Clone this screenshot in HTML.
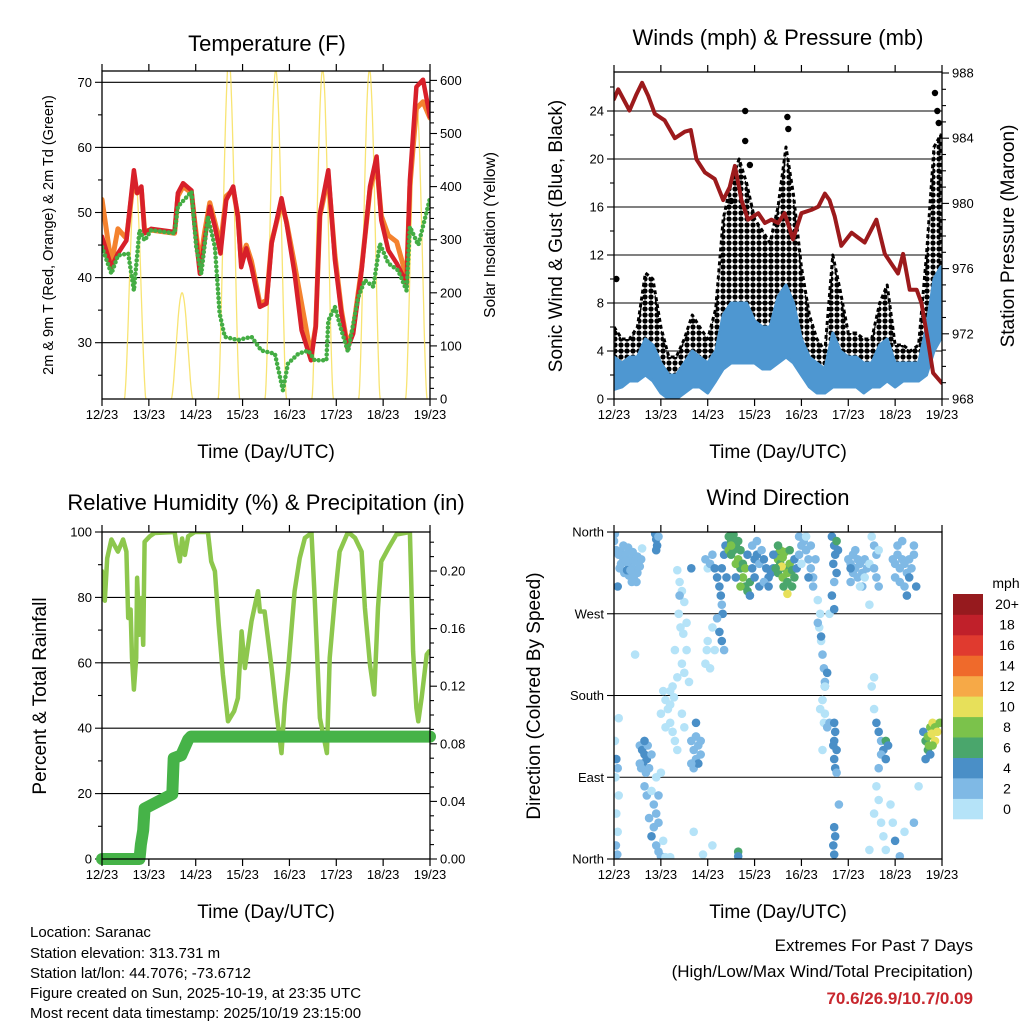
<!DOCTYPE html>
<html><head><meta charset="utf-8"><title>Station Meteogram</title>
<style>
html,body{margin:0;padding:0;background:#fff;}
svg{display:block;font-family:"Liberation Sans",Arial,sans-serif;}
</style></head>
<body>
<svg id="chart" width="1024" height="1024" viewBox="0 0 1024 1024" xmlns="http://www.w3.org/2000/svg">
<rect x="0" y="0" width="1024" height="1024" fill="#fff"/>
<defs>
<clipPath id="c1"><rect x="102" y="71" width="328" height="328"/></clipPath>
<clipPath id="c2"><rect x="614" y="72" width="328" height="327"/></clipPath>
<clipPath id="c3"><rect x="102" y="532" width="328" height="327"/></clipPath>
<clipPath id="c4"><rect x="614" y="532" width="328" height="327"/></clipPath>
<pattern id="gustdots" width="6" height="6" patternUnits="userSpaceOnUse">
<circle cx="3" cy="3" r="2.6" fill="#000"/>
</pattern>
</defs>
<g id="g1"></g>
<g id="g2"></g>
<g id="g3"></g>
<g id="g4"></g>
<g id="gt">
<text x="267" y="51" font-size="22" text-anchor="middle">Temperature (F)</text>
<text x="778" y="45" font-size="22" text-anchor="middle">Winds (mph) &amp; Pressure (mb)</text>
<text x="266" y="510" font-size="22" text-anchor="middle">Relative Humidity (%) &amp; Precipitation (in)</text>
<text x="778" y="505" font-size="22" text-anchor="middle">Wind Direction</text>
<text x="266" y="458" font-size="19" text-anchor="middle">Time (Day/UTC)</text>
<text x="778" y="458" font-size="19" text-anchor="middle">Time (Day/UTC)</text>
<text x="266" y="918" font-size="19" text-anchor="middle">Time (Day/UTC)</text>
<text x="778" y="918" font-size="19" text-anchor="middle">Time (Day/UTC)</text>
<text transform="translate(53,235) rotate(-90)" font-size="14.5" text-anchor="middle">2m &amp; 9m T (Red, Orange) &amp; 2m Td (Green)</text>
<text transform="translate(495,235) rotate(-90)" font-size="15.5" text-anchor="middle">Solar Insolation (Yellow)</text>
<text transform="translate(562,236) rotate(-90)" font-size="19" text-anchor="middle">Sonic Wind &amp; Gust (Blue, Black)</text>
<text transform="translate(1014,236) rotate(-90)" font-size="19" text-anchor="middle">Station Pressure (Maroon)</text>
<text transform="translate(46,696) rotate(-90)" font-size="19" text-anchor="middle">Percent &amp; Total Rainfall</text>
<text transform="translate(540,696) rotate(-90)" font-size="19" text-anchor="middle">Direction (Colored By Speed)</text>
<text x="30" y="937" font-size="15">Location: Saranac</text>
<text x="30" y="958" font-size="15">Station elevation: 313.731 m</text>
<text x="30" y="978" font-size="15">Station lat/lon: 44.7076; -73.6712</text>
<text x="30" y="998" font-size="15">Figure created on Sun, 2025-10-19, at 23:35 UTC</text>
<text x="30" y="1018" font-size="15">Most recent data timestamp: 2025/10/19 23:15:00</text>
<text x="973" y="951" font-size="17" text-anchor="end">Extremes For Past 7 Days</text>
<text x="973" y="977" font-size="17" text-anchor="end">(High/Low/Max Wind/Total Precipitation)</text>
<text x="973" y="1004" font-size="17" font-weight="bold" fill="#c8272e" text-anchor="end">70.6/26.9/10.7/0.09</text>
</g>
</svg>
<script>
// ---------- data ----------
const dayLabels = ["12/23","13/23","14/23","15/23","16/23","17/23","18/23","19/23"];
const tDays = [0,0.2,0.34,0.52,0.59,0.68,0.75,0.84,0.91,1.05,1.55,1.62,1.73,1.91,1.98,2.09,2.19,2.30,2.41,2.53,2.65,2.80,2.90,2.97,3.08,3.19,3.37,3.51,3.62,3.83,3.94,4.11,4.26,4.46,4.56,4.65,4.83,4.97,5.11,5.24,5.36,5.54,5.72,5.86,5.96,6.11,6.29,6.5,6.57,6.71,6.85,7.0];
const temp2m = [46.3,41.6,43.7,45.7,50.4,56.5,53,54,46.8,47.5,47,53,54.5,53.4,47.8,40.6,45.7,50.9,47.8,43.7,51.9,54,49.3,41.6,44.5,41.6,35.5,36,45.2,52.2,48.3,40.6,31.9,27.3,32.4,49.8,56.5,42.7,34.5,29.1,31.4,41.1,54,58.6,48.8,44.2,42.2,39.1,55,69.3,70.4,64.7];
const temp9m = [52,42,47.5,46,50,55.5,53,53.5,47.2,47.3,46.8,52.5,54,53,48.5,42,47,51.5,48.5,45,52.5,53.5,49.5,42.5,45,42.5,36,36.5,45.5,51.5,48.5,42,36,28,32.5,49.5,55.5,43.5,35,29.5,32,41.5,53.5,57.5,49.5,46.5,45.5,40,54,66,67,64.5];
const tdDays = [0,0.2,0.34,0.56,0.68,0.80,0.91,1.05,1.55,1.62,1.91,2.01,2.12,2.26,2.41,2.51,2.62,2.90,3.19,3.40,3.69,3.86,3.97,4.19,4.40,4.54,4.79,4.83,4.97,5.11,5.25,5.47,5.61,5.79,5.93,6.11,6.32,6.5,6.57,6.75,7.0];
const dewpoint = [44.7,40.6,43.4,43.7,38,47.3,45.7,47.3,46.8,50.9,53.2,44.7,40.6,49.3,44.7,34.5,30.9,30.4,30.9,28.8,28.3,22.7,26.8,28.3,28.8,27.3,27.3,33.4,35.5,31.9,28.6,37,39.6,38.6,45.2,42.2,41.1,38,47.8,45,52.2];
const solarPeakDay = [0,1,2,3,4,5,6];
const solarPeak = [420,200,640,620,620,620,560];

const wDays = [0,0.17,0.33,0.5,0.67,0.83,1.0,1.17,1.33,1.5,1.67,1.83,2.0,2.17,2.33,2.5,2.67,2.83,3.0,3.17,3.33,3.5,3.67,3.83,4.0,4.17,4.33,4.5,4.67,4.83,5.0,5.17,5.33,5.5,5.67,5.83,6.0,6.17,6.33,6.5,6.67,6.83,6.97];
const gustHi = [6,5,5,6,10.5,10,6,3.5,3.5,5,7,6,5,7.5,15,18,20,18,15,14,13,16,21,17,11,7,5,4,12,9,5.5,5.5,5,5,8,9.5,4.5,4.5,4,4.5,12,21,22];
const gustLo = [2.5,2.5,3,3,4,3.5,1.5,0.5,0.5,1.5,2,2,2,3,5,7,6,6,6,5,5,6,7,7,4,2.5,1.5,1,2,2,2,1.5,1,1.5,2,3,2,2,2,2,4,7,9];
const windHi = [3.5,3,3.5,3.5,5,4.5,3,2,2,3,4,3.5,3,4,7,8,8,8,6.5,6,6,8.5,9.5,8,5,3.5,3,2.5,5.5,4,3.5,3.5,3,3,4.5,5,3,3,3,3,6,10,11];
const windLo = [0.8,1,1.5,1.5,2,1.5,0.5,0,0,0.5,1,1,0.5,1.5,2.5,3,3,3,3,2.5,2.5,3,3.5,3,2,1,0.5,0.5,1,1,1,1,0.5,1,1,1.5,1,1.5,1.5,1.5,2,4,5];
const gustOutDay = [0.05,2.8,2.8,2.9,3.7,3.72,6.85,6.9,6.93,2.5];
const gustOutVal = [10,24,21.5,19.5,23.5,22.5,25.5,24,23,16.5];
const pDays = [0,0.09,0.33,0.48,0.6,0.73,0.87,1.08,1.3,1.51,1.64,1.76,1.94,2.15,2.33,2.47,2.58,2.72,2.86,3.08,3.22,3.36,3.5,3.64,3.82,4.0,4.21,4.36,4.5,4.6,4.71,4.85,5.07,5.21,5.35,5.6,5.78,5.92,6.06,6.17,6.31,6.46,6.56,6.7,6.81,6.99];
const pressure = [986.4,987,985.7,986.7,987.4,986.6,985.5,985.1,984,984.4,984.5,982.7,981.9,981.5,980.2,981,982.3,980.2,979,979.4,978.8,979,978.8,979.4,977.8,979.4,979.6,979.8,980.6,980.2,979.2,977.4,978.2,977.9,977.6,979,976.9,976.3,975.7,976.9,974.7,974.7,973.9,971.6,969.6,969];

const rhDays = [0,.06,.11,.2,.34,.45,.52,.56,.61,.64,.68,.73,.75,.8,.84,.88,.91,1.02,1.12,1.55,1.59,1.66,1.71,1.77,1.84,1.98,2.26,2.33,2.41,2.49,2.58,2.69,2.82,2.9,2.98,3.05,3.19,3.33,3.37,3.47,3.62,3.72,3.83,3.9,3.97,4.11,4.22,4.33,4.47,4.54,4.65,4.8,4.86,4.97,5.07,5.25,5.40,5.54,5.61,5.72,5.81,5.89,5.96,6.11,6.28,6.57,6.64,6.71,6.75,6.82,6.93,6.98];
const rh = [88,79,92,97.7,94,97.7,94,73.7,76.3,61.5,51.8,61.5,86,68.6,79.8,65.5,97,98.7,99.7,100,96,91,98,93,98.7,100,100,91,88,71.7,56.4,42.1,45.2,49.2,69.6,58.4,72.7,81.9,75.7,75.7,58.4,45.2,32.4,47.2,57.4,81.9,92,98.2,99.7,79.8,43.1,32.4,61.5,79.8,94,100,98.2,94,76.8,59.4,50.3,76.8,91,95,99.2,100,63.5,46.2,42.1,49.2,62.5,63.5];
const prDays = [0,0.8,0.83,0.88,0.91,1.5,1.53,1.69,1.84,1.9,7.0];
const precip = [0,0,0.01,0.02,0.035,0.045,0.07,0.072,0.083,0.085,0.085];

// wind direction points: day, degrees, speed (mph)
const dirDay = [];
const dirDeg = [];
const dirSpd = [];
const dirPts = [
[0.05,340,2],[0.1,335,2],[0.15,338,2],[0.2,330,2],[0.25,335,2],[0.3,325,2],[0.35,330,2],[0.4,320,2],[0.45,328,2],[0.5,315,2],[0.55,322,2],[0.12,320,2],[0.22,315,2],[0.32,312,2],[0.42,310,2],[0.48,305,2],[0.2,345,2],[0.3,343,2],[0.4,338,2],[0.5,333,2],[0.28,318,4],[0.08,300,4],[0.38,305,2],[0.58,330,2],[0.02,358,2],[0.6,342,0],[0.0,350,2],[0.15,325,2],[0.35,318,2],[0.25,328,2],
[0.88,358,4],[0.9,352,4],[0.92,345,4],[0.95,355,2],[0.9,340,4],
[1.35,318,0],[1.4,305,0],[1.45,295,0],[1.5,283,0],[1.38,270,0],[1.42,255,0],[1.48,248,0],[1.3,230,0],[1.55,230,0],[1.45,215,0],[1.35,200,0],[1.5,205,0],[1.6,195,0],[1.25,190,0],[1.65,320,4],[1.4,290,2],[1.55,260,0],[1.2,185,0],[0.45,225,0],
[1.95,330,2],[2.0,320,0],[2.05,325,2],[2.1,335,2],[2.15,320,4],[2.2,310,4],[2.25,300,4],[2.28,290,4],[2.3,280,2],[2.32,270,4],[2.2,265,2],[2.25,250,4],[2.3,240,4],[2.35,230,2],[2.1,255,0],[2.0,240,0],[2.15,230,0],[2.05,210,0],[1.95,215,0],[2.35,335,4],[2.3,320,4],[2.38,345,4],[2.4,310,4],[1.98,230,0],
[2.45,355,6],[2.5,350,6],[2.55,357,6],[2.6,345,6],[2.45,340,8],[2.5,335,6],[2.65,330,8],[2.7,320,6],[2.75,310,8],[2.8,300,6],[2.7,300,8],[2.85,295,6],[2.6,325,8],[2.55,340,6],[2.75,325,6],[2.9,305,6],[2.5,345,8],[2.65,350,6],[2.8,320,8],[2.7,340,6],[2.6,310,4],[2.85,335,4],[2.9,290,4],
[2.95,320,4],[3.0,330,4],[3.05,335,4],[3.1,325,2],[3.15,340,2],[3.2,330,4],[3.25,320,4],[3.3,310,4],[3.35,315,4],[3.0,310,4],[3.1,300,4],[3.2,305,2],[3.3,300,4],[2.95,345,2],[3.05,350,2],[3.4,320,4],
[3.45,335,6],[3.5,330,8],[3.55,325,6],[3.6,332,8],[3.65,320,6],[3.7,315,8],[3.75,325,8],[3.8,318,6],[3.85,310,6],[3.5,315,6],[3.6,310,8],[3.7,305,6],[3.55,340,8],[3.65,338,8],[3.75,340,6],[3.58,322,10],[3.7,292,10],[3.5,345,6],[3.8,300,6],[3.62,300,6],[3.45,320,6],[3.85,330,4],[3.4,335,4],[3.9,320,4],
[3.95,355,2],[4.0,345,2],[4.05,350,2],[4.1,340,2],[4.15,330,2],[4.2,320,2],[4.25,310,2],[4.1,355,0],[4.0,325,0],[4.2,345,2],[4.25,300,2],[4.15,310,4],[4.3,330,2],[3.95,335,2],
[4.35,285,0],[4.4,270,0],[4.38,255,0],[4.42,240,0],[4.45,225,2],[4.48,210,2],[4.5,195,2],[4.45,175,0],[4.4,165,0],[4.48,150,0],[4.35,260,2],[4.42,245,4],[4.5,190,4],[4.55,205,4],[4.6,270,0],
[4.65,355,4],[4.7,345,4],[4.72,335,4],[4.68,325,4],[4.75,315,4],[4.7,305,2],[4.75,350,6],[4.65,290,4],[4.78,340,4],[4.7,275,4],
[5.0,330,2],[5.05,325,2],[5.1,335,2],[5.15,320,2],[5.2,330,2],[5.25,325,2],[5.3,315,2],[5.35,330,2],[5.1,315,2],[5.2,310,2],[5.05,305,2],[5.3,300,2],[5.4,320,2],[5.15,340,2],[5.25,300,0],[5.35,310,0],[5.45,325,0],[5.05,320,4],
[5.5,355,0],[5.55,345,2],[5.6,335,2],[5.65,340,0],[5.55,320,2],[5.6,310,2],[5.65,300,2],[5.45,280,0],[5.55,200,0],
[5.95,330,2],[6.0,325,2],[6.05,335,2],[6.1,320,2],[6.15,330,2],[6.2,325,2],[6.25,315,2],[6.3,330,2],[6.35,320,2],[6.0,310,2],[6.1,305,2],[6.2,300,2],[6.3,310,4],[6.05,345,2],[6.15,350,2],[6.4,335,2],[6.45,300,4],[6.4,345,2],[6.25,290,4],
[0.02,130,0],[0.05,110,4],[0.08,100,2],[0.03,90,0],[0.1,70,0],[0.05,50,0],[0.08,30,0],[0.04,15,2],[0.07,5,2],[0.1,155,0],
[0.55,125,2],[0.6,120,4],[0.65,115,4],[0.62,105,4],[0.7,110,4],[0.58,100,2],[0.68,95,2],[0.75,100,2],[0.72,125,2],[0.55,105,2],[0.65,130,4],[0.8,115,2],
[0.65,80,2],[0.7,70,2],[0.8,75,0],[0.85,60,2],[0.9,50,2],[0.95,40,2],[0.85,35,2],[0.8,25,4],[0.9,15,2],[0.95,8,2],[1.0,3,2],[1.05,2,2],[0.75,45,2],[1.1,2,0],[1.2,2,0],[0.9,90,0],[1.0,95,0],[0.95,70,2],[1.05,20,0],
[1.05,185,0],[1.1,175,0],[1.15,165,0],[1.2,150,0],[1.25,140,0],[1.3,130,0],[1.1,145,0],[1.2,170,0],[1.35,120,0],[1.0,160,0],[1.45,160,0],[1.5,145,0],[1.28,178,0],
[1.65,130,2],[1.7,120,2],[1.75,110,2],[1.8,125,2],[1.85,115,2],[1.7,100,2],[1.8,105,4],[1.75,135,2],[1.65,105,2],[1.85,130,2],[1.75,150,4],[1.7,30,0],[1.9,5,0],[2.1,15,0],
[2.65,8,6],[2.65,3,4],
[4.5,190,0],[4.45,175,0],[4.5,160,0],[4.6,150,2],[4.55,145,2],[4.45,120,0],
[4.7,150,4],[4.72,140,4],[4.7,130,4],[4.75,120,4],[4.7,110,4],[4.72,100,4],[4.68,125,4],[4.75,95,2],[4.7,35,4],[4.72,25,4],[4.68,15,4],[4.7,5,4],[4.8,60,2],
[5.6,150,4],[5.65,140,4],[5.7,130,2],[5.75,120,4],[5.8,130,6],[5.85,125,4],[5.7,115,2],[5.8,110,4],[5.55,165,0],[5.5,190,0],[5.65,100,2],
[5.6,80,0],[5.65,65,0],[5.55,50,0],[5.7,40,0],[5.75,25,0],[5.8,10,0],[5.9,60,0],[5.95,40,0],[6.0,20,4],[6.1,3,2],[6.2,30,0],[6.4,40,2],[6.5,80,0],[5.45,10,0],
[6.6,140,4],[6.65,130,6],[6.7,135,8],[6.75,145,8],[6.8,150,10],[6.85,145,8],[6.9,140,10],[6.95,150,8],[6.7,120,6],[6.75,115,4],[6.85,130,10],[6.8,125,8],[6.65,110,4],[6.72,125,8],[6.78,138,10]
];
dirPts.forEach(p=>{dirDay.push(p[0]);dirDeg.push(p[1]);dirSpd.push(p[2]);});
const cbLabels = ["0","2","4","6","8","10","12","14","16","18","20+"];
const cbColors = ["#b5e3f8","#7fb9e5","#4a8fc7","#4aa66c","#7bc24b","#e7e05a","#f6a947","#ef6a2b","#e03a2f","#c0202a","#961a1e"];

// ---------- helpers ----------
const NS = "http://www.w3.org/2000/svg";
function el(parent, tag, attrs, name) {
  const e = document.createElementNS(NS, tag);
  for (const k in attrs) e.setAttribute(k, attrs[k]);
  
  
  parent.appendChild(e);
  return e;
}
function pathFrom(xs, ys, fx, fy) {
  return xs.map((d,i)=>(i?"L":"M")+fx(d).toFixed(1)+","+fy(ys[i]).toFixed(1)).join("");
}
function bandFrom(xs, lo, hi, fx, fy) {
  let s = xs.map((d,i)=>(i?"L":"M")+fx(d).toFixed(1)+","+fy(hi[i]).toFixed(1)).join("");
  for (let i=xs.length-1;i>=0;i--) s += "L"+fx(xs[i]).toFixed(1)+","+fy(lo[i]).toFixed(1);
  return s+"Z";
}
function frame(g, P, pfx) {
  el(g, 'rect', {x:P.x0,y:P.y0,width:P.x1-P.x0,height:P.y1-P.y0,fill:'none',stroke:'#000','stroke-width':1.3}, pfx+'-frame');
  for (let d=0; d<=7; d++) {
    const x = P.x0 + d*(P.x1-P.x0)/7;
    el(g,'line',{x1:x,x2:x,y1:P.y1,y2:P.y1+7,stroke:'#000','stroke-width':1.2}, pfx+'-x-tick');
    el(g,'line',{x1:x,x2:x,y1:P.y0,y2:P.y0-7,stroke:'#000','stroke-width':1.2}, pfx+'-x-top-tick');
    const t = el(g,'text',{x:x,y:P.y1+20,'font-size':13,'text-anchor':'middle'}, pfx+'-x-tick-label');
    t.textContent = dayLabels[d];
  }
}
function yAxis(g, P, side, fy, min, max, major, minor, fmt, grid, pfx) {
  const xe = side==='L'?P.x0:P.x1, dir = side==='L'?-1:1;
  const n = Math.round((max-min)/minor);
  for (let i=0;i<=n;i++) {
    const v = min + i*minor, y = fy(v);
    if (y < P.y0-0.5 || y > P.y1+0.5) continue;
    const isMaj = Math.abs((v-min)/major - Math.round((v-min)/major))<1e-6;
    el(g,'line',{x1:xe,x2:xe+dir*(isMaj?7:4),y1:y,y2:y,stroke:'#000','stroke-width':1.1}, pfx+'-y-tick');
    if (isMaj) {
      if (grid) el(g,'line',{x1:P.x0,x2:P.x1,y1:y,y2:y,stroke:'#000','stroke-width':1.1}, pfx+'-gridline');
      const t = el(g,'text',{x:xe+dir*10,y:y+4.5,'font-size':13,'text-anchor':side==='L'?'end':'start'}, pfx+'-y-tick-label');
      t.textContent = fmt(v);
    }
  }
}

// ---------- panel 1: temperature ----------
(function(){
  const g = document.getElementById('g1');
  const P = {x0:102,x1:430,y0:71,y1:399};
  const fx = d => P.x0 + d*(P.x1-P.x0)/7;
  const fy = v => 342.7 - (v-30)*6.51;
  const fs = v => 399 - v*0.531;
  yAxis(g,P,'L',fy,20,70,10,5,v=>String(v),true,'temp');
  yAxis(g,P,'R',fs,0,600,100,20,v=>String(v),false,'solar');
  const c = el(g,'g',{'clip-path':'url(#c1)'},'temperature-plot-area');
  solarPeakDay.forEach((d,i)=>{
    const pk = solarPeak[i];
    let s = "";
    for (let h=11.5; h<=22.5; h+=0.25) {
      const f = Math.sin(Math.PI*(h-11.5)/11);
      s += (s?"L":"M")+fx(d+h/24).toFixed(1)+","+fs(pk*Math.pow(Math.max(f,0),1.6)).toFixed(1);
    }
    el(c,'path',{d:s,fill:'none',stroke:'#f7df5a','stroke-width':1.3,opacity:0.85},'solar-curve');
  });
  el(c,'path',{d:pathFrom(tDays,temp9m,fx,fy),fill:'none',stroke:'#f4822e','stroke-width':5,'stroke-linejoin':'round','stroke-linecap':'round'},'temp-9m-line');
  el(c,'path',{d:pathFrom(tDays,temp2m,fx,fy),fill:'none',stroke:'#d8202a','stroke-width':4.5,'stroke-linejoin':'round','stroke-linecap':'round'},'temp-2m-line');
  el(c,'path',{d:pathFrom(tdDays,dewpoint,fx,fy),fill:'none',stroke:'#44ad44','stroke-width':4.5,'stroke-dasharray':'0 4.5','stroke-linecap':'round','stroke-linejoin':'round'},'dewpoint-line');
  frame(g,P,'temp');
})();

// ---------- panel 2: winds & pressure ----------
(function(){
  const g = document.getElementById('g2');
  const P = {x0:614,x1:942,y0:72,y1:399};
  const fx = d => P.x0 + d*(P.x1-P.x0)/7;
  const fy = v => 399 - v*12;
  const fp = v => 399 - (v-968)*16.3;
  yAxis(g,P,'L',fy,0,26,4,2,v=>String(v),true,'wind');
  yAxis(g,P,'R',fp,968,988,4,1,v=>String(v),false,'pressure');
  const c = el(g,'g',{'clip-path':'url(#c2)'},'wind-plot-area');
  el(c,'path',{d:bandFrom(wDays,gustLo,gustHi,fx,fy),fill:'url(#gustdots)',stroke:'#000','stroke-width':3,'stroke-dasharray':'4 3','stroke-linejoin':'round'},'gust-band');
  gustOutDay.forEach((d,i)=>{
    el(c,'circle',{cx:fx(d),cy:fy(gustOutVal[i]),r:3.2,fill:'#000'},'gust-point');
  });
  el(c,'path',{d:bandFrom(wDays,windLo,windHi,fx,fy),fill:'#4e97d1',stroke:'#4e97d1','stroke-width':3,'stroke-linejoin':'round'},'wind-band');
  el(c,'path',{d:pathFrom(pDays,pressure,fx,fp),fill:'none',stroke:'#9c1a1c','stroke-width':4,'stroke-linejoin':'round','stroke-linecap':'round'},'pressure-line');
  frame(g,P,'wind');
})();

// ---------- panel 3: RH & precipitation ----------
(function(){
  const g = document.getElementById('g3');
  const P = {x0:102,x1:430,y0:532,y1:859};
  const fx = d => P.x0 + d*(P.x1-P.x0)/7;
  const fy = v => 859 - v*3.27;
  const fr = v => 859 - v*1440;
  yAxis(g,P,'L',fy,0,100,20,10,v=>String(v),true,'rh');
  yAxis(g,P,'R',fr,0,0.22,0.04,0.01,v=>v.toFixed(2),false,'precip');
  const c = el(g,'g',{'clip-path':'url(#c3)'},'rh-plot-area');
  el(c,'path',{d:pathFrom(rhDays,rh,fx,fy),fill:'none',stroke:'#8dc74d','stroke-width':4.5,'stroke-linejoin':'round','stroke-linecap':'round'},'rh-line');
  el(g,'path',{d:pathFrom(prDays,precip,fx,fr),fill:'none',stroke:'#46b348','stroke-width':12,'stroke-linejoin':'round','stroke-linecap':'round'},'precip-line');
  frame(g,P,'rh');
})();

// ---------- panel 4: wind direction ----------
(function(){
  const g = document.getElementById('g4');
  const P = {x0:614,x1:942,y0:532,y1:859};
  const fx = d => P.x0 + d*(P.x1-P.x0)/7;
  const fy = v => 859 - v*0.9083;
  const dirNames = ["North","East","South","West","North"];
  for (let i=0;i<5;i++) {
    const y = fy(i*90);
    el(g,'line',{x1:P.x0,x2:P.x1,y1:y,y2:y,stroke:'#000','stroke-width':1.1},'direction-gridline');
    el(g,'line',{x1:P.x0-7,x2:P.x0,y1:y,y2:y,stroke:'#000','stroke-width':1.1},'direction-y-tick');
    const t = el(g,'text',{x:P.x0-10,y:y+4.5,'font-size':13,'text-anchor':'end'},'direction-y-tick-label');
    t.textContent = dirNames[i];
  }
  const c = el(g,'g',{'clip-path':'url(#c4)'},'direction-plot-area');
  dirDay.forEach((d,i)=>{
    const ci = Math.min(10, Math.floor(dirSpd[i]/2));
    el(c,'circle',{cx:fx(d).toFixed(1),cy:fy(dirDeg[i]).toFixed(1),r:4.3,fill:cbColors[ci]},'direction-point');
  });
  frame(g,P,'direction');
  const cbT = el(g,'text',{x:1006,y:588,'font-size':14,'text-anchor':'middle'},'colorbar-unit');
  cbT.textContent = 'mph';
  const bh = 225/11;
  cbLabels.forEach((lab,i)=>{
    const y = 819 - (i+1)*bh;
    el(g,'rect',{x:953,y:y.toFixed(1),width:30,height:(bh+0.3).toFixed(1),fill:cbColors[i]},'colorbar-box');
    const t = el(g,'text',{x:1007,y:(y+bh/2+5).toFixed(1),'font-size':14,'text-anchor':'middle'},'colorbar-label');
    t.textContent = lab;
  });
})();
</script>
</body></html>
